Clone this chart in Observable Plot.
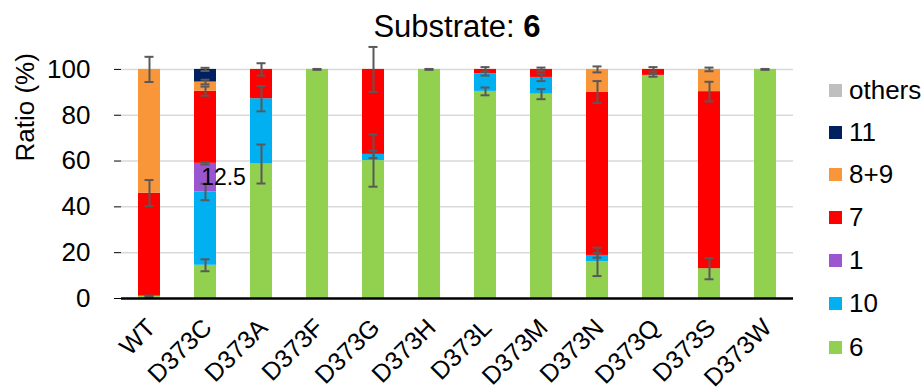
<!DOCTYPE html>
<html>
<head>
<meta charset="utf-8">
<script src="https://cdn.jsdelivr.net/npm/d3@7"></script>
<script src="https://cdn.jsdelivr.net/npm/@observablehq/plot@0.6"></script>
<style>
  body { margin: 0; background: #fff; font-family: "Liberation Sans", Arial, sans-serif; }
  #wrap { position: relative; width: 924px; height: 391px; overflow: hidden; }
  #title { position: absolute; left: 121px; width: 672px; top: 11px; line-height: 31px; text-align: center; font-size: 31px; color: #000; }
  #legend { position: absolute; left: 829px; top: 0; }
  .li { position: absolute; left: 0; display: flex; align-items: center; font-size: 26px; white-space: nowrap; color: #000; }
  .sw { width: 13px; height: 13px; margin-right: 7px; }
  #chart { position: absolute; left: 0; top: 0; }
</style>
</head>
<body>
<div id="wrap">
  <div id="chart"></div>
  <div id="title">Substrate: <b>6</b></div>
  <div id="legend"></div>
</div>
<script>
const categories = ["WT","D373C","D373A","D373F","D373G","D373H","D373L","D373M","D373N","D373Q","D373S","D373W"];
// stacking order, bottom to top
const seriesNames = ["6","10","1","7","8+9","11","others"];
const seriesColors = ["#92d050","#00b0f0","#9b55d0","#ff0000","#f9963a","#002060","#bfbfbf"];
const legendOrder = ["others","11","8+9","7","1","10","6"];

const s6      = [1, 14.5, 58.7, 100, 60.2, 100, 90.4, 89.2, 16, 97.4, 13, 100];
const s10     = [0, 32, 28.5, 0, 2.7, 0, 7.7, 7.3, 2.8, 0, 0, 0];
const s1      = [0, 12.5, 0, 0, 0, 0, 0, 0, 0, 0, 0, 0];
const s7      = [45, 31.5, 12.8, 0, 37.1, 0, 1.9, 3.5, 71.3, 2.6, 77.3, 0];
const s89     = [54, 4, 0, 0, 0, 0, 0, 0, 9.9, 0, 9.7, 0];
const s11     = [0, 5.5, 0, 0, 0, 0, 0, 0, 0, 0, 0, 0];
const sOthers = [0, 0, 0, 0, 0, 0, 0, 0, 0, 0, 0, 0];

const e6      = [0.3, 2.6, 8.5, 0.2, 11.4, 0.2, 1.7, 2.2, 6.2, 0.6, 4.6, 0.2];
const e10     = [0, 3.6, 5.5, 0, 1.6, 0, 0.8, 1.6, 1, 0, 0, 0];
const e1      = [0, 0.5, 0, 0, 0, 0, 0, 0, 0, 0, 0, 0];
const e7      = [5.7, 2, 2.7, 0, 9.8, 0, 1, 0.8, 4.8, 1, 4.3, 0];
const e89     = [5.5, 1, 0, 0, 0, 0, 0, 0, 1.3, 0, 0.8, 0];
const e11     = [0, 0.7, 0, 0, 0, 0, 0, 0, 0, 0, 0, 0];
const eOthers = [0, 0, 0, 0, 0, 0, 0, 0, 0, 0, 0, 0];

const yTicks = [0, 20, 40, 60, 80, 100];
const labelText = "12.5";

const values = [s6, s10, s1, s7, s89, s11, sOthers];
const errors = [e6, e10, e1, e7, e89, e11, eOthers];

const rows = [];
const errRows = [];
categories.forEach((c, i) => {
  let cum = 0;
  seriesNames.forEach((s, k) => {
    const v = values[k][i];
    rows.push({cat: c, series: s, value: v});
    cum += v;
    if (v > 0) errRows.push({cat: c, series: s, top: cum, lo: cum - errors[k][i], hi: cum + errors[k][i]});
  });
});
// label for purple segment of D373C
const labelRows = [];
{
  const i = categories.indexOf("D373C");
  const base = s6[i] + s10[i];
  labelRows.push({cat: "D373C", y: base + s1[i] / 2, text: labelText});
}

const chart = Plot.plot({
  width: 924,
  height: 391,
  marginLeft: 121,
  marginRight: 131,
  marginTop: 46,
  marginBottom: 93,
  style: {fontFamily: "Liberation Sans, Arial, sans-serif", background: "white", color: "#000"},
  x: {domain: categories, paddingInner: 0.6, paddingOuter: 0.3, align: 0.5},
  y: {domain: [0, 110], ticks: yTicks},
  color: {domain: seriesNames, range: seriesColors},
  marks: [
    Plot.gridY(yTicks.filter(d => d > 0), {stroke: "#d9d9d9", strokeOpacity: 1, strokeWidth: 1.5}),
    Plot.barY(rows, {x: "cat", y: "value", fill: "series", order: seriesNames}),
    Plot.ruleX(errRows, {x: "cat", y1: "lo", y2: "hi", stroke: "#595959", strokeWidth: 2}),
    Plot.tickY(errRows, {x: "cat", y: "lo", stroke: "#595959", strokeWidth: 2, inset: 6.5}),
    Plot.tickY(errRows, {x: "cat", y: "hi", stroke: "#595959", strokeWidth: 2, inset: 6.5}),
    Plot.text(labelRows, {x: "cat", y: "y", text: "text", dx: 18, fontSize: 23, fill: "#000"}),
    Plot.ruleX([0], {x: () => null, frameAnchor: "left", stroke: "#000", strokeWidth: 1.5}),
    Plot.ruleY([0], {stroke: "#000", strokeWidth: 2.5}),
    Plot.axisY({ticks: yTicks, tickSize: 7, tickPadding: 24, fontSize: 26, label: null, stroke: "#000"}),
    Plot.axisX({tickSize: 0, tickRotate: -45, tickPadding: 20, fontSize: 25, label: null, dx: 2, dy: 5}),
    Plot.text(["Ratio (%)"], {frameAnchor: "left", rotate: -90, dx: -96, dy: -11, fontSize: 26, fill: "#000"})
  ]
});
document.getElementById("chart").appendChild(chart);

// legend
const legend = document.getElementById("legend");
const centers = [90, 132, 174, 217, 260, 303, 347];
legendOrder.forEach((name, j) => {
  const k = seriesNames.indexOf(name);
  const div = document.createElement("div");
  div.className = "li";
  div.style.top = (centers[j] - 15) + "px";
  div.style.height = "30px";
  div.innerHTML = `<span class="sw" style="background:${seriesColors[k]}"></span><span>${name}</span>`;
  legend.appendChild(div);
});
</script>
</body>
</html>
